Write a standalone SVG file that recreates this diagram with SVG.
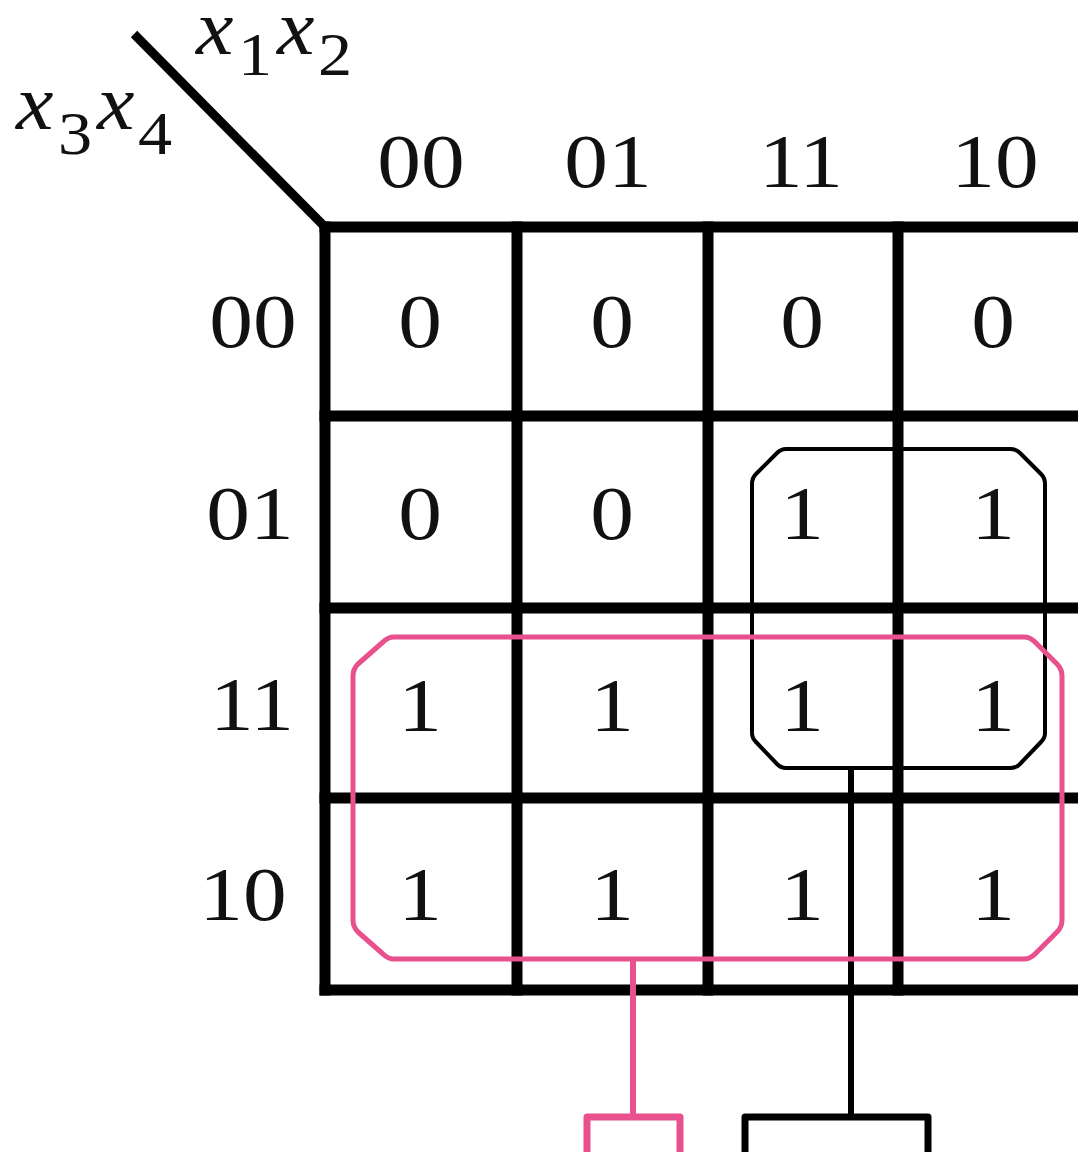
<svg xmlns="http://www.w3.org/2000/svg" width="1078" height="1152" viewBox="0 0 1078 1152">
<style>
.g{stroke:#000;stroke-width:11;stroke-linecap:square;fill:none}
.t{font-family:"Liberation Serif","Times New Roman",serif;font-size:76px;fill:#111;text-anchor:middle}
.v{font-family:"Liberation Serif","Times New Roman",serif;font-style:italic;font-size:78px;fill:#111}
.s{font-family:"Liberation Serif","Times New Roman",serif;font-size:62px;fill:#111}
.bk{stroke:#000;fill:none;stroke-linejoin:round}
.pk{stroke:#E8508E;fill:none;stroke-linejoin:round}
</style>
<rect width="1078" height="1152" fill="#fff"/>
<g id="corner-labels">
<line x1="134" y1="34" x2="325" y2="227" stroke="#000" stroke-width="9"/>
<text class="v" transform="translate(196,54) scale(1.08,1)">x</text>
<text class="s" transform="translate(238,75) scale(1.1,1)">1</text>
<text class="v" transform="translate(277,54) scale(1.08,1)">x</text>
<text class="s" transform="translate(318,75) scale(1.1,1)">2</text>
<text class="v" transform="translate(16,129) scale(1.08,1)">x</text>
<text class="s" transform="translate(58,154) scale(1.1,1)">3</text>
<text class="v" transform="translate(97,129) scale(1.08,1)">x</text>
<text class="s" transform="translate(138,154) scale(1.1,1)">4</text>
</g>
<g id="column-headers">
<text class="t" transform="translate(421,187) scale(1.15,1)">00</text>
<text class="t" transform="translate(608,187) scale(1.15,1)">01</text>
<text class="t" transform="translate(801,187) scale(1.15,1)">11</text>
<text class="t" transform="translate(995,187) scale(1.15,1)">10</text>
</g>
<g id="row-headers">
<text class="t" transform="translate(253,347) scale(1.15,1)">00</text>
<text class="t" transform="translate(250,539) scale(1.15,1)">01</text>
<text class="t" transform="translate(252,730) scale(1.15,1)">11</text>
<text class="t" transform="translate(243,920) scale(1.15,1)">10</text>
</g>
<g id="kmap-grid">
<line class="g" x1="325" y1="227" x2="325" y2="990"/>
<line class="g" x1="517" y1="227" x2="517" y2="990"/>
<line class="g" x1="708" y1="227" x2="708" y2="990"/>
<line class="g" x1="898" y1="227" x2="898" y2="990"/>
<line class="g" x1="325" y1="227" x2="1090" y2="227"/>
<line class="g" x1="325" y1="416" x2="1090" y2="416"/>
<line class="g" x1="325" y1="608" x2="1090" y2="608"/>
<line class="g" x1="325" y1="798" x2="1090" y2="798"/>
<line class="g" x1="325" y1="990" x2="1090" y2="990"/>
</g>
<g id="kmap-cells">
<text class="t" transform="translate(420,347) scale(1.15,1)">0</text>
<text class="t" transform="translate(612,347) scale(1.15,1)">0</text>
<text class="t" transform="translate(802,347) scale(1.15,1)">0</text>
<text class="t" transform="translate(993,347) scale(1.15,1)">0</text>
<text class="t" transform="translate(420,539) scale(1.15,1)">0</text>
<text class="t" transform="translate(612,539) scale(1.15,1)">0</text>
<text class="t" transform="translate(802,539) scale(1.15,1)">1</text>
<text class="t" transform="translate(993,539) scale(1.15,1)">1</text>
<text class="t" transform="translate(420,731) scale(1.15,1)">1</text>
<text class="t" transform="translate(612,731) scale(1.15,1)">1</text>
<text class="t" transform="translate(802,731) scale(1.15,1)">1</text>
<text class="t" transform="translate(993,731) scale(1.15,1)">1</text>
<text class="t" transform="translate(420,920) scale(1.15,1)">1</text>
<text class="t" transform="translate(612,920) scale(1.15,1)">1</text>
<text class="t" transform="translate(802,920) scale(1.15,1)">1</text>
<text class="t" transform="translate(993,920) scale(1.15,1)">1</text>
</g>
<g id="group-black">
<path class="bk" stroke-width="4" d="M786 449 H1011 Q1016 449 1020 453 L1041 474 Q1045 478 1045 484 V733 Q1045 738 1041 742 L1020 764 Q1016 768 1011 768 H786 Q781 768 777 764 L756 742 Q752 738 752 733 V484 Q752 478 756 474 L777 453 Q781 449 786 449 Z"/>
</g>
<g id="connectors">
<line x1="851" y1="768" x2="851" y2="1117" stroke="#000" stroke-width="6"/>
<line x1="633" y1="959" x2="633" y2="1117" stroke="#E8508E" stroke-width="6"/>
</g>
<g id="group-pink">
<path class="pk" stroke-width="5" d="M394 637 H1024 Q1030 637 1035 642 L1057 664 Q1062 669 1062 676 V920 Q1062 927 1057 932 L1035 954 Q1030 959 1024 959 H394 Q388 959 383 954 L358 932 Q353 927 353 920 V676 Q353 669 358 664 L383 642 Q388 637 394 637 Z"/>
</g>
<g id="box-pink">
<path class="pk" stroke-width="7" stroke-linejoin="miter" d="M587 1160 V1117 H680 V1160"/>
</g>
<g id="box-black">
<path class="bk" stroke-width="7" stroke-linejoin="miter" d="M745 1160 V1117 H928 V1160"/>
</g>
</svg>
